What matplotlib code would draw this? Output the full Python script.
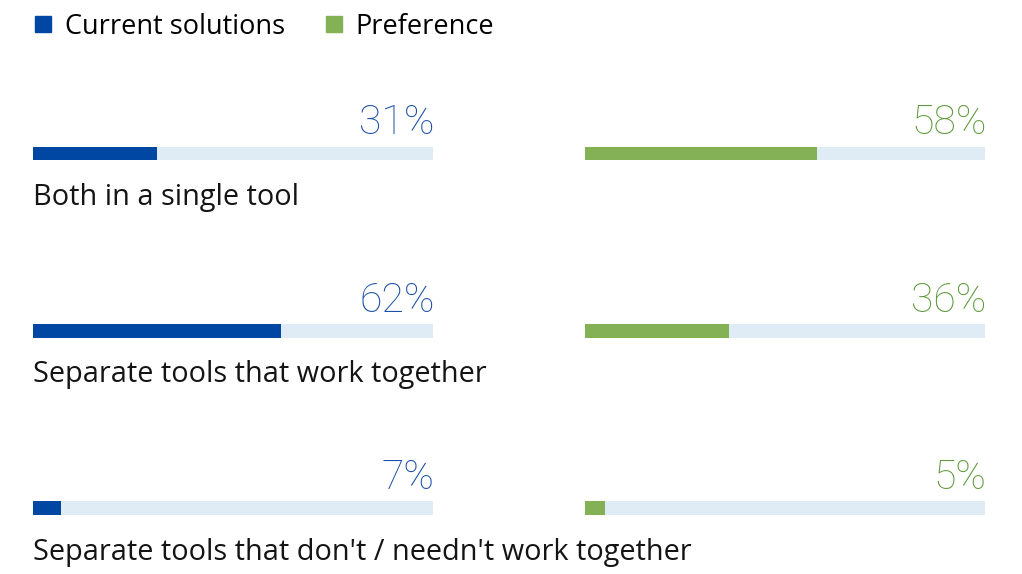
import matplotlib
matplotlib.use('Agg')
import matplotlib.pyplot as plt
from matplotlib.lines import Line2D

categories = [
    "Both in a single tool",
    "Separate tools that work together",
    "Separate tools that don't / needn't work together",
]
current = [31, 62, 7]
preference = [58, 36, 5]
series_names = ["Current solutions", "Preference"]

bar_colors = ["#0047A3", "#84B056"]
text_colors = ["#1D4FA6", "#5E9A3B"]
track_color = "#DFECF6"

plt.rcParams['font.family'] = ['Open Sans', 'DejaVu Sans']

W, H = 1022, 574
fig = plt.figure(figsize=(W / 100, H / 100), dpi=100)

# row centres in pixels: ~153.5, 331, 509 -> spacing ~177.5
ylim = (2.37, -0.865)
bar_h = 0.078

col_left = [33, 585]
col_w = 400
axes = []
for i, vals in enumerate([current, preference]):
    ax = fig.add_axes([col_left[i] / W, 0, col_w / W, 1])
    ax.set_xlim(0, 100)
    ax.set_ylim(*ylim)
    ax.axis('off')
    rows = list(range(len(vals)))
    ax.barh(rows, [100] * len(vals), height=bar_h, color=track_color, linewidth=0)
    ax.barh(rows, vals, height=bar_h, color=bar_colors[i], linewidth=0)
    for r, v in zip(rows, vals):
        ax.text(100.4, r - 0.108, f"{v}%", ha='right', va='baseline',
                fontsize=29.5, color=text_colors[i], fontweight='light',
                family=['Roboto', 'DejaVu Sans'])
    axes.append(ax)

for r, cat in enumerate(categories):
    axes[0].text(0, r + 0.29, cat, ha='left', va='baseline',
                 fontsize=20.8, color='#141414')

handles = [Line2D([0], [0], marker='s', linestyle='none', markersize=11,
                  markerfacecolor=c, markeredgecolor=c) for c in bar_colors]
fig.legend(handles, series_names, loc='upper left',
           bbox_to_anchor=(19 / W, 1 - 2 / H), ncol=2, frameon=False,
           fontsize=19.5, handletextpad=0.3, columnspacing=1.3,
           borderaxespad=0, handlelength=1.0)

fig.savefig("out.png", dpi=100)
